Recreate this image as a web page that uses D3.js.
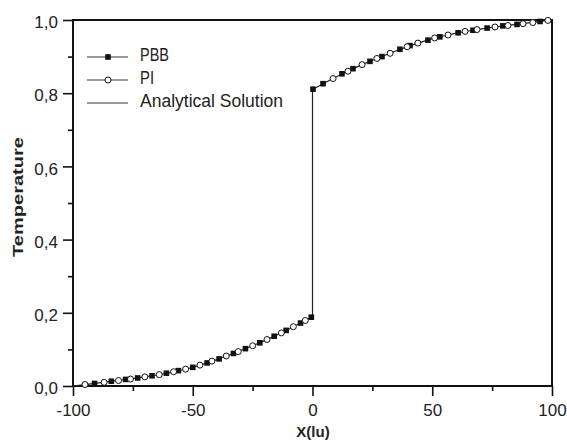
<!DOCTYPE html>
<html>
<head>
<meta charset="utf-8">
<script src="https://cdn.jsdelivr.net/npm/d3@7"></script>
<style>
body{margin:0;background:#fff}
text{font-family:"Liberation Sans",Arial,sans-serif}
</style>
</head>
<body>
<svg id="chart" width="567" height="441"></svg>
<script>
// analytical solution (jump at x=0)
var anX = [-100,-95,-90,-85,-80,-75,-70,-65,-60,-55,-50,-45,-40,-35,-30,-25,-20,-15,-10,-5,0,
           0,5,10,15,20,25,30,35,40,45,50,55,60,65,70,75,80,85,90,95,100]
var anT = [0,0.004,0.008,0.012,0.016,0.020,0.025,0.030,0.036,0.043,0.051,0.061,0.072,0.084,0.097,0.110,0.124,0.139,0.155,0.172,0.190,
           0.810,0.828,0.845,0.861,0.876,0.890,0.903,0.916,0.928,0.939,0.949,0.957,0.964,0.970,0.975,0.980,0.984,0.988,0.992,0.996,1.0]

var pbbX = [-91,-84,-78,-73,-67,-61,-56,-50,-44,-39,-33,-28,-22,-16,-11,-5,-0.5,
            0.2,4.4,12.3,16.9,24,29,36.5,40.7,48.2,53.2,60.8,67,72.9,79.5,85.4,95]
var pbbT = [0.007,0.013,0.018,0.022,0.028,0.035,0.042,0.051,0.063,0.074,0.089,0.102,0.118,0.136,0.152,0.172,0.188,
            0.811,0.826,0.853,0.867,0.887,0.900,0.920,0.930,0.945,0.954,0.965,0.972,0.978,0.984,0.988,0.996]

var piX = [-95,-87,-81,-76,-70,-64,-58,-53,-47,-42,-36,-31,-25,-19,-13,-8,-3,
           8.6,14.8,20.7,26.9,32.4,39.5,44,51,56.6,63.7,68.7,76.2,81.6,87.9,92,98.3]
var piT = [0.004,0.010,0.015,0.019,0.025,0.031,0.039,0.046,0.057,0.068,0.082,0.094,0.110,0.127,0.145,0.162,0.179,
           0.840,0.860,0.878,0.895,0.909,0.927,0.937,0.951,0.959,0.969,0.974,0.981,0.985,0.990,0.993,0.999]

var xTicks = [-100,-50,0,50,100]
var yTicks = [0,0.2,0.4,0.6,0.8,1.0]
var legendNames = ["PBB","PI","Analytical Solution"]

var svg = d3.select("#chart")
var x = d3.scaleLinear().domain([-100,100]).range([73,552])
var y = d3.scaleLinear().domain([0,1]).range([386,20])

var fmt = function(d){ return d3.format(".1f")(d).replace(".",",") }

// minor ticks first
svg.append("g").attr("transform","translate(0,386)")
    .call(d3.axisBottom(x).tickValues(d3.range(-75,100,50)).tickSize(5).tickFormat(""))
svg.append("g").attr("transform","translate(73,0)")
    .call(d3.axisLeft(y).tickValues(d3.range(0.1,1,0.2)).tickSize(5).tickFormat(""))

var xa = svg.append("g").attr("transform","translate(0,386)")
    .call(d3.axisBottom(x).tickValues(xTicks).tickSize(10).tickPadding(8).tickFormat(function(d){return String(d)}))
var ya = svg.append("g").attr("transform","translate(73,0)")
    .call(d3.axisLeft(y).tickValues(yTicks).tickSize(10).tickPadding(5).tickFormat(fmt))

svg.selectAll(".domain").remove()
svg.selectAll(".tick line").attr("stroke","#111").attr("stroke-width",1.6)
svg.selectAll(".tick text").attr("font-size",17).attr("fill","#222")
    .attr("font-family","'Liberation Sans',Arial,sans-serif")
ya.selectAll(".tick text").attr("dy","0.45em")

// frame
svg.append("rect").attr("x",73).attr("y",20).attr("width",552-73).attr("height",386-20)
    .attr("fill","none").attr("stroke","#111").attr("stroke-width",2)

var line = d3.line().x(function(d){return x(d[0])}).y(function(d){return y(d[1])})

svg.append("path").datum(d3.zip(anX,anT)).attr("d",line)
    .attr("fill","none").attr("stroke","#222").attr("stroke-width",1.2)

var pbb = d3.zip(pbbX,pbbT)
var pi = d3.zip(piX,piT)

svg.selectAll("rect.pbb").data(pbb).enter().append("rect").attr("class","pbb")
    .attr("x",function(d){return x(d[0])-2.8}).attr("y",function(d){return y(d[1])-2.8})
    .attr("width",5.6).attr("height",5.6).attr("fill","#111")

svg.selectAll("circle.pi").data(pi).enter().append("circle").attr("class","pi")
    .attr("cx",function(d){return x(d[0])}).attr("cy",function(d){return y(d[1])})
    .attr("r",3).attr("fill","#fff").attr("stroke","#111").attr("stroke-width",1)

// legend
var lg = svg.append("g")
var lens = [29,14,null]
legendNames.forEach(function(n,i){
    var ly = 57 + i*23
    lg.append("line").attr("x1",87).attr("x2",128).attr("y1",ly).attr("y2",ly)
        .attr("stroke","#333").attr("stroke-width",1)
    if(i==0) lg.append("rect").attr("x",105.2).attr("y",ly-2.8).attr("width",5.6).attr("height",5.6).attr("fill","#111")
    if(i==1) lg.append("circle").attr("cx",108).attr("cy",ly).attr("r",3).attr("fill","#fff").attr("stroke","#111")
    var t = lg.append("text").text(n).attr("x",140).attr("y",ly+4)
        .attr("font-size",17.5).attr("fill","#222")
    if(lens[i]) t.attr("textLength",lens[i]).attr("lengthAdjust","spacingAndGlyphs")
})

svg.append("text").text("Temperature")
    .attr("transform","translate(23,197) rotate(-90)")
    .attr("text-anchor","middle").attr("font-size",15).attr("font-weight","bold")
    .attr("textLength",120).attr("lengthAdjust","spacingAndGlyphs").attr("fill","#222")

svg.append("text").text("X(lu)").attr("x",313).attr("y",437)
    .attr("text-anchor","middle").attr("font-size",15).attr("font-weight","bold").attr("fill","#222")
</script>
</body>
</html>
